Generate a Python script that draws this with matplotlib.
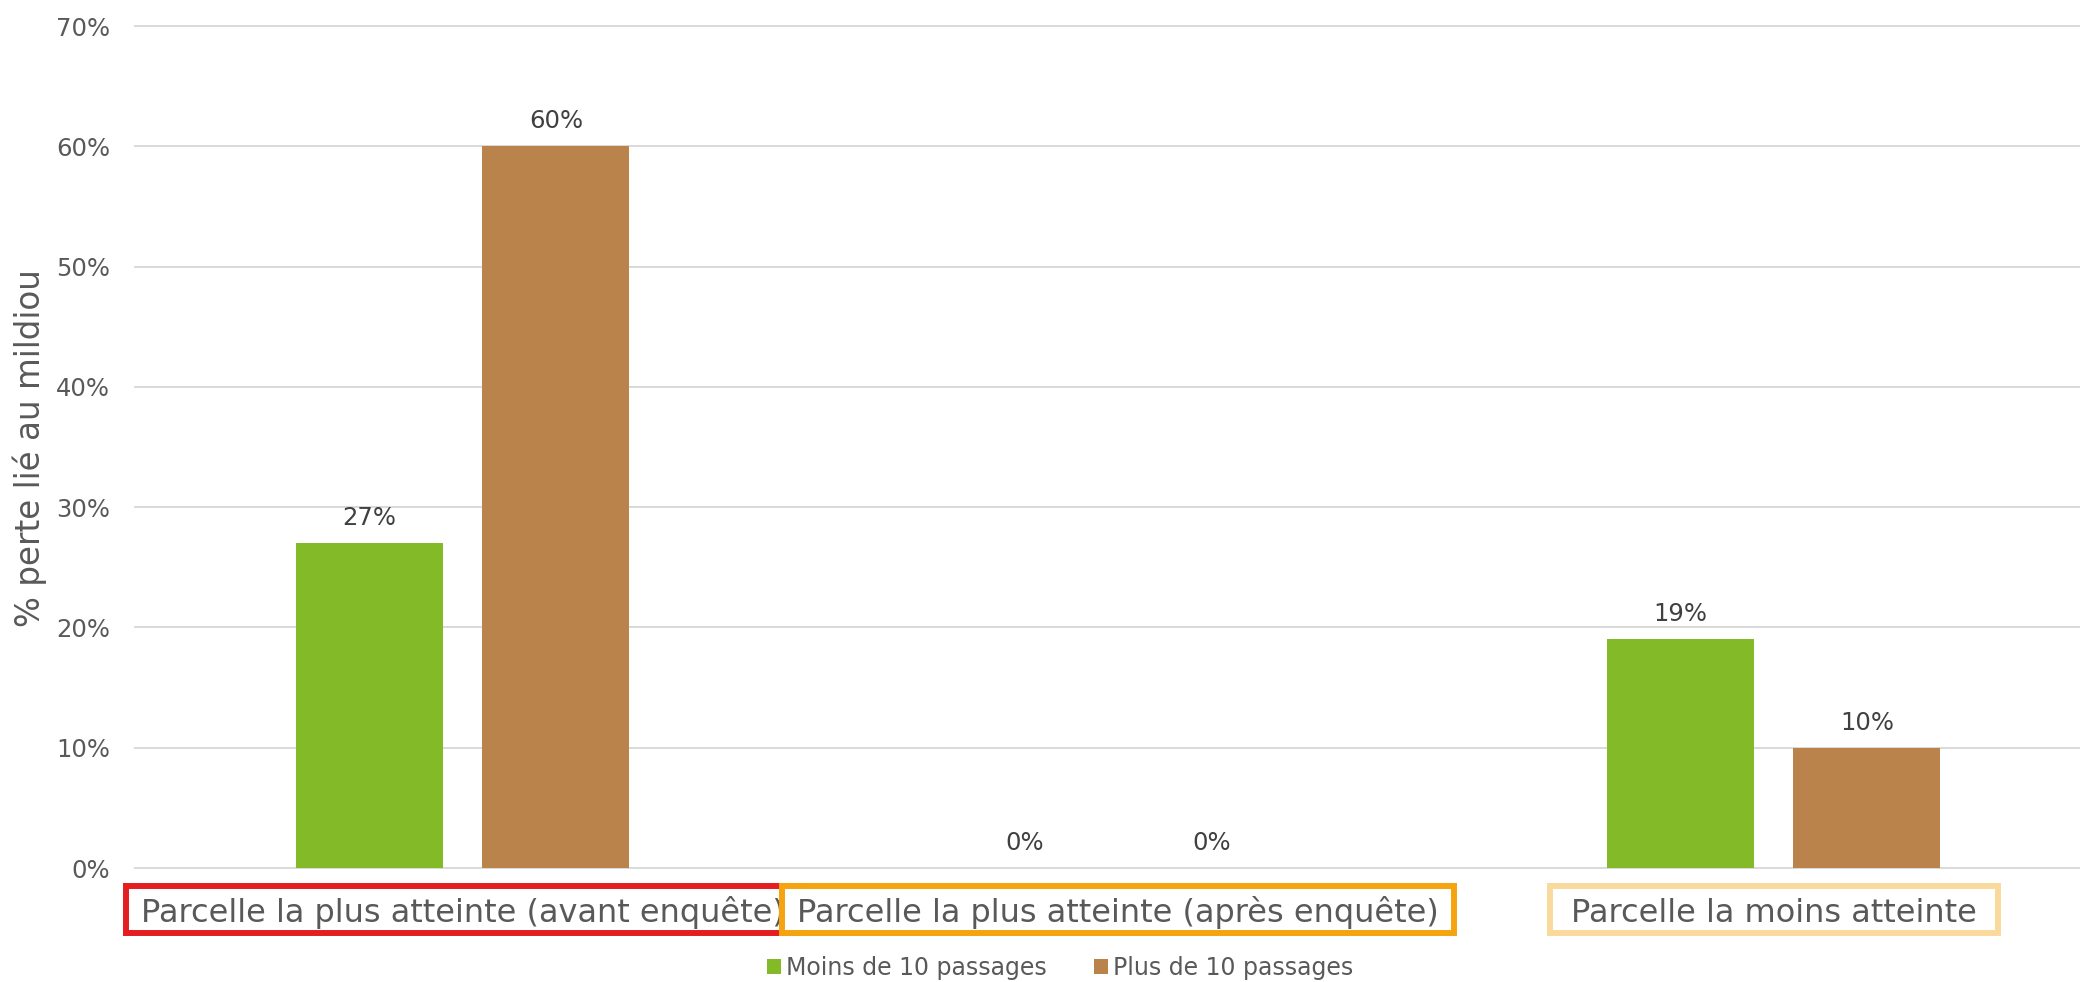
import matplotlib
matplotlib.use("Agg")
import matplotlib.pyplot as plt
from matplotlib.patches import Rectangle
from matplotlib.transforms import blended_transform_factory
from matplotlib.ticker import PercentFormatter

# ---- data ----
categories = [
    "Parcelle la plus atteinte (avant enquête)",
    "Parcelle la plus atteinte (après enquête)",
    "Parcelle la moins atteinte",
]
series_names = ["Moins de 10 passages", "Plus de 10 passages"]
moins_10 = [27, 0, 19]   # % perte
plus_10 = [60, 0, 10]    # % perte
y_ticks = [0, 10, 20, 30, 40, 50, 60, 70]
y_label = "% perte lié au mildiou"

# ---- style ----
colors = ["#82BA28", "#B9834B"]
box_colors = ["#E41E20", "#F5A30F", "#FADA9C"]
box_pad_x = [15, 15, 21]
tick_color = "#595959"
value_color = "#404040"
grid_color = "#D9D9D9"

W, H = 2080, 982
fig = plt.figure(figsize=(W / 100, H / 100), dpi=100)
fig.patch.set_facecolor("white")

ax = fig.add_axes([135 / W, 114 / H, (2101.5 - 135) / W, 842 / H])
ax.set_xlim(-0.5, len(categories) - 0.5)
ax.set_ylim(0, y_ticks[-1])

bar_w = 0.224
offset = 0.142
xs = list(range(len(categories)))
for vals, col, sign, name in zip([moins_10, plus_10], colors, [-1, 1], series_names):
    pos = [x + sign * offset for x in xs]
    ax.bar(pos, vals, width=bar_w, color=col, label=name, zorder=2)
    for p, v in zip(pos, vals):
        ax.annotate(f"{v}%", (p, v), xytext=(0, 18), textcoords="offset points",
                    ha="center", va="center", fontsize=17.5, color=value_color)

ax.set_yticks(y_ticks)
ax.yaxis.set_major_formatter(PercentFormatter(decimals=0))
ax.tick_params(axis="y", length=0, pad=18, labelsize=17.5, labelcolor=tick_color)
ax.set_xticks([])
ax.grid(axis="y", color=grid_color, linewidth=1.4)
ax.set_axisbelow(True)
for gl in ax.get_ygridlines():
    gl.set_clip_on(False)
for s in ax.spines.values():
    s.set_visible(False)

fig.text(30 / W, 1 - 448 / H, y_label, rotation=90, ha="center", va="center",
         fontsize=23.5, color=tick_color)

# ---- framed category labels ----
trans = blended_transform_factory(ax.transData, fig.transFigure)
baseline_y = 1 - 922 / H
box_top = 1 - 886 / H
box_bot = 1 - 933 / H
fig.canvas.draw()
renderer = fig.canvas.get_renderer()
z = 4
for x, cat, bcol, px in zip(xs, categories, box_colors, box_pad_x):
    t = fig.text(x, baseline_y, cat, transform=trans, ha="center", va="baseline",
                 fontsize=23, color=tick_color, zorder=z + 1)
    ext = t.get_window_extent(renderer)
    x0 = (ext.x0 - px) / W
    x1 = (ext.x1 + px) / W
    rect = Rectangle((x0, box_bot), x1 - x0, box_top - box_bot,
                     transform=fig.transFigure, facecolor="white",
                     edgecolor=bcol, linewidth=4.3, zorder=z)
    fig.add_artist(rect)
    z += 2

handles, labels = ax.get_legend_handles_labels()
fig.legend(handles, labels, loc="center", bbox_to_anchor=(1060 / W, 1 - 968 / H),
           ncol=2, frameon=False, fontsize=17, labelcolor=tick_color,
           handlelength=0.6, handleheight=0.6, handletextpad=0.2,
           columnspacing=2.0, borderpad=0, borderaxespad=0)

fig.savefig("out.png", dpi=100, facecolor="white")
